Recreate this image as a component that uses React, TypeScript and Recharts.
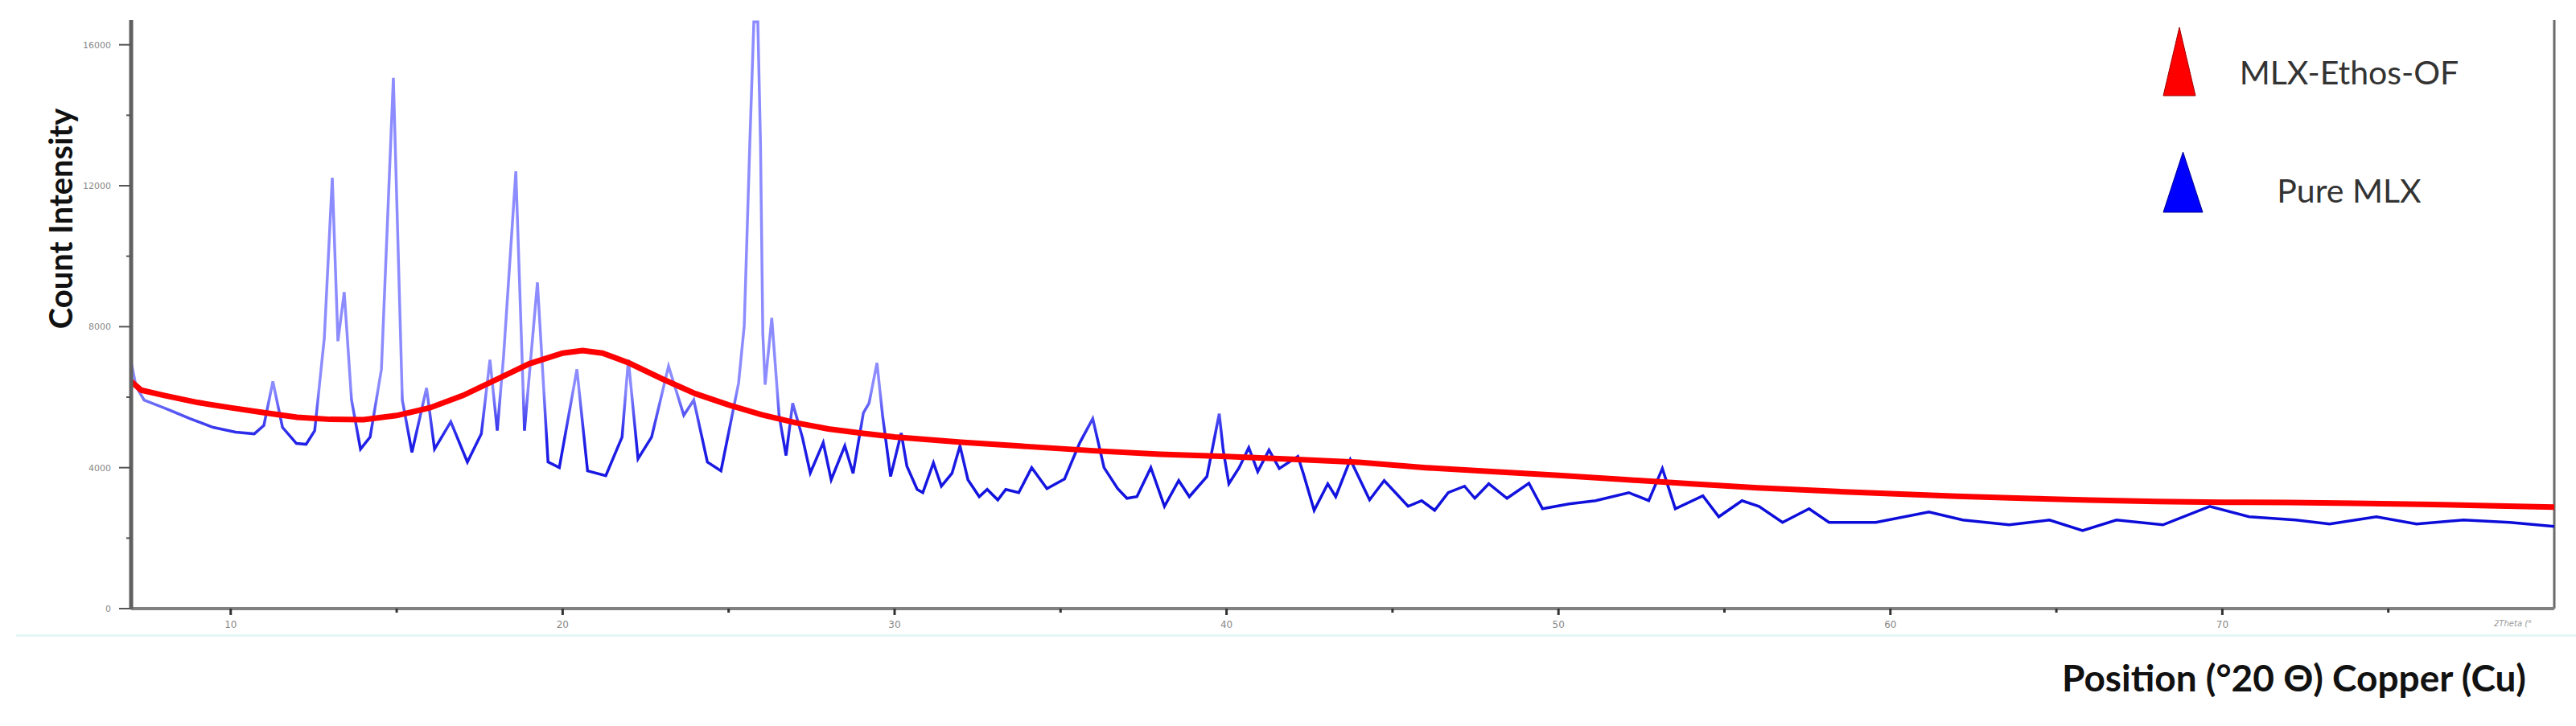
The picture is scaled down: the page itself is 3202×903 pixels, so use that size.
import { LineChart, Line, XAxis, YAxis, ReferenceLine, Legend } from 'recharts';

// Pure MLX (blue trace), 2-theta positions and counts
const pureTheta = [
  7.0, 7.15, 7.39, 8.07, 8.77, 9.47, 10.15, 10.71, 11.0, 11.27, 11.56, 11.98, 12.27, 12.53, 12.82, 13.06,
  13.23, 13.42, 13.64, 13.91, 14.2, 14.54, 14.9, 15.17, 15.46, 15.9, 16.14, 16.63, 17.13, 17.55, 17.81,
  18.03, 18.22, 18.59, 18.85, 19.24, 19.56, 19.9, 20.43, 20.75, 21.3, 21.79, 21.98, 22.27, 22.68, 23.19,
  23.65, 23.95, 24.36, 24.77, 25.3, 25.47, 25.64, 25.76, 25.88, 25.96, 26.03, 26.1, 26.3, 26.52, 26.73,
  26.93, 27.22, 27.46, 27.85, 28.09, 28.5, 28.75, 29.06, 29.23, 29.47, 29.64, 29.88, 30.2, 30.37, 30.68,
  30.85, 31.17, 31.41, 31.73, 31.97, 32.21, 32.55, 32.79, 33.11, 33.35, 33.74, 34.13, 34.59, 35.12, 35.58,
  35.97, 36.31, 36.72, 37.0, 37.3, 37.72, 38.13, 38.56, 38.88, 39.41, 39.78, 39.9, 40.07, 40.38, 40.67,
  40.94, 41.28, 41.59, 42.15, 42.32, 42.64, 43.05, 43.29, 43.73, 44.31, 44.75, 45.47, 45.88, 46.27, 46.68,
  47.17, 47.48, 47.9, 48.45, 49.11, 49.52, 50.32, 51.12, 52.12, 52.72, 53.13, 53.52, 54.35, 54.83, 55.53,
  56.04, 56.75, 57.55, 58.15, 59.56, 61.16, 62.18, 63.58, 64.79, 65.79, 66.81, 68.21, 69.62, 70.81, 72.21,
  73.23, 74.64, 75.85, 77.26, 78.66, 80.0,
];
const pureCounts = [
  7000, 6300, 5920, 5669, 5394, 5143, 5006, 4960, 5200, 6446, 5143, 4686, 4663, 5051, 7680, 12229,
  7589, 8983, 5920, 4526, 4869, 6789, 15063, 5920, 4434, 6263, 4526, 5303, 4160, 4960, 7063,
  5051, 7154, 12411, 5051, 9257, 4160, 4000, 6789, 3909, 3771, 4869, 7063, 4251, 4869, 6880,
  5486, 5920, 4160, 3909, 6400, 8023, 13234, 16650, 16650, 13234, 7817, 6354, 8251, 5486, 4343,
  5829, 4869, 3850, 4709, 3657, 4617, 3840, 5554, 5829, 6971, 5463, 3749, 4983, 4046, 3383,
  3291, 4137, 3474, 3840, 4617, 3657, 3177, 3383, 3086, 3383, 3291, 4000, 3406, 3680, 4709,
  5394, 4000, 3406, 3131, 3177, 4000, 2903, 3634, 3177, 3749, 5531, 4503, 3543, 4000, 4571,
  3886, 4503, 3977, 4320, 3817, 2789, 3543, 3177, 4229, 3086, 3634, 2903, 3063, 2789, 3291,
  3474, 3131, 3543, 3131, 3560, 2834, 2971, 3063, 3291, 3063, 3977, 2834, 3200, 2606, 3063,
  2903, 2446, 2834, 2446, 2446, 2743, 2514, 2377, 2514, 2217, 2514, 2377, 2903, 2606, 2514,
  2400, 2606, 2400, 2514, 2446, 2331,
];

// MLX-Ethos-OF (red trace)
const ethosTheta = [
  7.0, 7.3, 8, 9, 10, 11, 12, 13, 14, 15, 16, 17, 18, 19, 20, 20.6, 21.2, 22, 23, 24, 25, 26, 27, 28, 29,
  30, 32, 34, 36, 38, 40, 42, 44, 46, 48, 50, 52, 54, 56, 58, 60, 62, 64, 66, 68, 70, 72, 74, 76, 78, 80,
];
const ethosCounts = [
  6450, 6200, 6050, 5850, 5700, 5560, 5430, 5370, 5360, 5480, 5700, 6050, 6500, 6950, 7250, 7320, 7250,
  6970, 6520, 6100, 5780, 5500, 5280, 5100, 4980, 4870, 4720, 4600, 4480, 4380, 4320, 4240, 4150, 4000,
  3890, 3780, 3660, 3540, 3430, 3340, 3260, 3190, 3130, 3080, 3040, 3020, 3010, 2990, 2960, 2920, 2880,
];

const xTicks = [10, 15, 20, 25, 30, 35, 40, 45, 50, 55, 60, 65, 70, 75];
const yTicks = [0, 2000, 4000, 6000, 8000, 10000, 12000, 14000, 16000];
const legendOrder = ['MLX-Ethos-OF', 'Pure MLX'];
const legendFill: Record<string, string> = { 'MLX-Ethos-OF': '#ff0000', 'Pure MLX': '#0000ff' };

const pureData = pureTheta.map((t, i) => ({ theta: t, counts: pureCounts[i] }));
const ethosData = ethosTheta.map((t, i) => ({ theta: t, counts: ethosCounts[i] }));

function XTick({ x, y, payload }: any) {
  const major = payload.value % 10 === 0;
  return (
    <g>
      <line x1={x} y1={y} x2={x} y2={y + (major ? 8 : 5)} stroke="#333" strokeWidth={3} />
      {major && (
        <text x={x} y={y + 24} textAnchor="middle" fontSize={12} fill="#888" fontFamily="DejaVu Sans">
          {payload.value}
        </text>
      )}
    </g>
  );
}

function YTick({ x, y, payload }: any) {
  const major = payload.value % 4000 === 0;
  return (
    <g>
      <line x1={x - (major ? 15 : 6)} y1={y} x2={x} y2={y} stroke="#555" strokeWidth={2} />
      {major && (
        <text x={x - 25} y={y} dy={4} textAnchor="end" fontSize={11} fill="#888" fontFamily="DejaVu Sans">
          {payload.value}
        </text>
      )}
    </g>
  );
}

// the blue series is stroked with a gradient, so the legend uses flat fills
function TriangleLegend({ payload }: any) {
  const items = [...(payload ?? [])].sort(
    (a: any, b: any) => legendOrder.indexOf(a.value) - legendOrder.indexOf(b.value)
  );
  return (
    <div style={{ position: 'relative', width: 420, height: 240 }}>
      {items.map((it: any, i: number) => {
        const top = i === 0 ? 0 : 155;
        const w = i === 0 ? 40 : 49;
        const h = i === 0 ? 85 : 75;
        return (
          <div key={it.value}>
            <svg style={{ position: 'absolute', left: 0, top }} width={w + 2} height={h + 2}>
              <polygon
                points={`${w / 2 + 1},1 ${w + 1},${h + 1} 1,${h + 1}`}
                fill={legendFill[it.value] ?? it.color}
                stroke={i === 0 ? '#a00000' : '#000090'}
                strokeWidth={1}
              />
            </svg>
            <div
              style={{
                position: 'absolute',
                left: 77,
                top: top + (i === 0 ? 33 : 25),
                width: 310,
                textAlign: 'center',
                fontFamily: 'Lato',
                fontSize: 41,
                lineHeight: '48px',
                color: '#333',
              }}
            >
              {it.value}
            </div>
          </div>
        );
      })}
    </div>
  );
}

export default function App() {
  return (
    <div style={{ position: 'relative', width: 3202, height: 903, background: '#fff', overflow: 'hidden' }}>
      <style>{'body{margin:0}'}</style>
      <LineChart width={3202} height={903} margin={{ top: 25, right: 27, left: 0, bottom: 0 }}>
        <defs>
          <linearGradient id="pureStroke" x1="0" y1="0" x2="0" y2="1">
            <stop offset="0" stopColor="#8c8cff" />
            <stop offset="0.72" stopColor="#8c8cff" />
            <stop offset="0.82" stopColor="#2020e8" />
            <stop offset="1" stopColor="#0a0ad8" />
          </linearGradient>
        </defs>
        <XAxis
          type="number"
          dataKey="theta"
          domain={[7, 80]}
          ticks={xTicks}
          height={146}
          tickSize={0}
          tickMargin={0}
          tickLine={false}
          tick={<XTick />}
          axisLine={{ stroke: '#808080', strokeWidth: 4 }}
          allowDataOverflow
        />
        <YAxis
          type="number"
          domain={[0, 16700]}
          ticks={yTicks}
          width={163}
          tickSize={0}
          tickMargin={0}
          tickLine={false}
          tick={<YTick />}
          axisLine={{ stroke: '#606060', strokeWidth: 5 }}
          allowDataOverflow
        />
        <ReferenceLine x={80} stroke="#6a6a6a" strokeWidth={3} />
        <Legend
          layout="vertical"
          align="center"
          verticalAlign="middle"
          content={<TriangleLegend />}
          wrapperStyle={{ left: 2688, top: 33, width: 420, height: 240 }}
        />
        <Line
          data={pureData}
          dataKey="counts"
          name="Pure MLX"
          type="linear"
          stroke="url(#pureStroke)"
          strokeWidth={3.5}
          dot={false}
          isAnimationActive={false}
        />
        <Line
          data={ethosData}
          dataKey="counts"
          name="MLX-Ethos-OF"
          type="linear"
          stroke="#ff0000"
          strokeWidth={7}
          dot={false}
          isAnimationActive={false}
        />
      </LineChart>
      <div
        style={{
          position: 'absolute',
          left: 75,
          top: 272,
          transform: 'translate(-50%, -50%) rotate(-90deg)',
          whiteSpace: 'nowrap',
          fontFamily: 'Lato',
          fontWeight: 700,
          fontSize: 40,
          color: '#111',
        }}
      >
        Count Intensity
      </div>
      <div
        style={{
          position: 'absolute',
          left: 2563,
          top: 814,
          whiteSpace: 'nowrap',
          fontFamily: 'Lato',
          fontWeight: 700,
          fontSize: 46,
          lineHeight: '58px',
          color: '#111',
        }}
      >
        Position (°20 Θ) Copper (Cu)
      </div>
      <div
        style={{
          position: 'absolute',
          left: 3100,
          top: 770,
          fontFamily: 'DejaVu Sans',
          fontStyle: 'italic',
          fontSize: 10,
          color: '#999',
        }}
      >
        2Theta (°
      </div>
      <div style={{ position: 'absolute', left: 20, top: 789, width: 3182, height: 3, background: '#e2f6f3' }} />
    </div>
  );
}
